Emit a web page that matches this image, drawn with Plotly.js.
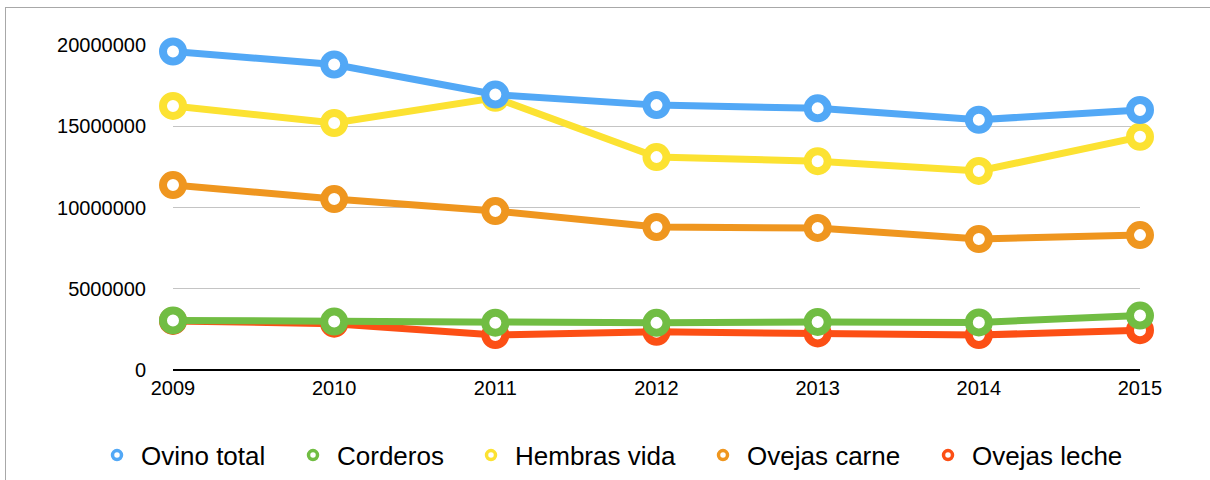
<!DOCTYPE html>
<html>
<head>
<meta charset="utf-8">
<script src="https://cdn.plot.ly/plotly-3.0.1.min.js"></script>
<style>
  html, body { margin: 0; padding: 0; background: #fff; overflow: hidden; }
  #frame { position: absolute; left: 5px; top: 7px; width: 1300px; height: 600px;
           border-left: 1px solid #a8a8a8; border-top: 1px solid #a8a8a8; }
  #chart { position: absolute; left: 0; top: 0; width: 1210px; height: 480px; }
</style>
</head>
<body>
<div id="frame"></div>
<div id="chart"></div>
<script>
const years = [2009, 2010, 2011, 2012, 2013, 2014, 2015];
const ovinoTotal   = [19600000, 18800000, 16950000, 16300000, 16100000, 15400000, 16000000];
const corderos     = [3050000, 2980000, 2910000, 2900000, 2960000, 2930000, 3350000];
const hembrasVida  = [16250000, 15200000, 16750000, 13100000, 12850000, 12250000, 14350000];
const ovejasCarne  = [11380000, 10520000, 9780000, 8800000, 8740000, 8060000, 8300000];
const ovejasLeche  = [3020000, 2850000, 2150000, 2350000, 2250000, 2150000, 2450000];
const yTicks = [0, 5000000, 10000000, 15000000, 20000000];
const yTickText = ['0', '5000000', '10000000', '15000000', '20000000'];

const names = ['Ovino total', 'Corderos', 'Hembras vida', 'Ovejas carne', 'Ovejas leche'];
const colors = {
  'Ovino total': '#52a8f6',
  'Corderos': '#71bd43',
  'Hembras vida': '#fce232',
  'Ovejas carne': '#ef961f',
  'Ovejas leche': '#fc4f15'
};
const seriesData = {
  'Ovino total': ovinoTotal,
  'Corderos': corderos,
  'Hembras vida': hembrasVida,
  'Ovejas carne': ovejasCarne,
  'Ovejas leche': ovejasLeche
};
// draw order (bottom to top)
const drawOrder = ['Ovejas carne', 'Hembras vida', 'Ovino total', 'Ovejas leche', 'Corderos'];

// plot area geometry (pixels)
const plotL = 173, plotR = 1140;
const legendMarkerPx = [117, 313, 491, 723, 948];
const legendIds = ['legend', 'legend2', 'legend3', 'legend4', 'legend5'];
const ITEM_W = 38, MARKER_OFF = 24;

const traces = [];
drawOrder.forEach(n => {
  traces.push({
    type: 'scatter', mode: 'lines+markers', name: n, showlegend: false,
    x: years, y: seriesData[n], cliponaxis: false,
    line: { color: colors[n], width: 7 },
    marker: { symbol: 'circle', size: 20, color: '#ffffff', line: { color: colors[n], width: 8 } },
    hoverinfo: 'x+y+name'
  });
});
names.forEach((n, i) => {
  traces.push({
    type: 'scatter', mode: 'markers', name: n, showlegend: true, legend: legendIds[i],
    x: [null], y: [null],
    marker: { symbol: 'circle', size: 9, color: '#ffffff', line: { color: colors[n], width: 3.5 } }
  });
});

const layout = {
  width: 1210, height: 480,
  margin: { l: plotL, r: 1210 - plotR, t: 45, b: 110, autoexpand: false },
  paper_bgcolor: 'rgba(0,0,0,0)', plot_bgcolor: 'rgba(0,0,0,0)',
  font: { family: '"Liberation Sans", Arial, Helvetica, sans-serif', color: '#000', size: 20 },
  xaxis: {
    range: [2009, 2015], tickvals: years, ticktext: years.map(String),
    showgrid: false, zeroline: false, showline: false,
    ticks: 'outside', ticklen: 0, tickcolor: 'rgba(0,0,0,0)',
    tickfont: { size: 20, color: '#000' }, fixedrange: true
  },
  yaxis: {
    range: [0, 20000000], tickvals: yTicks, ticktext: yTickText,
    showgrid: true, gridcolor: '#c4c4c4', gridwidth: 1,
    zeroline: true, zerolinecolor: '#000', zerolinewidth: 2.5,
    showline: false, ticks: 'outside', ticklen: 22, tickcolor: 'rgba(0,0,0,0)',
    tickfont: { size: 20, color: '#000' }, fixedrange: true
  },
  showlegend: true
};
legendIds.forEach((id, i) => {
  layout[id] = {
    orientation: 'h',
    x: (legendMarkerPx[i] - MARKER_OFF - plotL) / (plotR - plotL), xanchor: 'left',
    y: -0.262, yanchor: 'middle',
    font: { size: 26, color: '#000' }, itemwidth: ITEM_W,
    bgcolor: 'rgba(0,0,0,0)'
  };
});

Plotly.newPlot('chart', traces, layout, { displayModeBar: false, staticPlot: true });
</script>
</body>
</html>
